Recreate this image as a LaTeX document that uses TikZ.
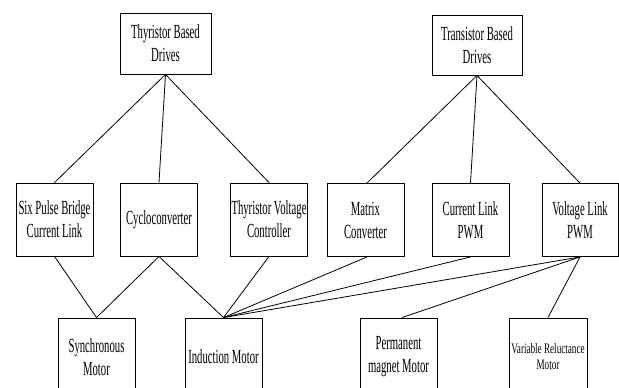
\documentclass[tikz,border=0pt]{standalone}
\usepackage{fontspec}
\setmainfont[FakeStretch=0.535]{Liberation Serif}
\newfontfamily\smallserif[FakeStretch=0.63]{Liberation Serif}
\begin{document}
\begin{tikzpicture}[x=1pt,y=-1pt,
  box/.style={draw,line width=0.9pt,inner sep=0pt,align=center,
    font=\fontsize{20}{23}\selectfont},
  topbox/.style={box,minimum width=91pt,minimum height=61pt},
  midbox/.style={box,minimum width=77pt,minimum height=73pt},
  lowbox/.style={box,minimum width=77pt,minimum height=78pt},
  link/.style={line width=0.8pt}]
\useasboundingbox (0,0) rectangle (619,388);
\fill[white] (0,0) rectangle (619,388);
\begin{scope}
\clip (0,0) rectangle (619,388);
% top row
\node[topbox] (thy) at (165.5,43.5) {Thyristor Based\\Drives};
\node[topbox,minimum width=90pt,minimum height=60pt] (tra) at (477,45) {Transistor Based\\Drives};
% middle row
\node[midbox] (six) at (54.5,219.5) {Six Pulse Bridge\\Current Link};
\node[midbox] (cyc) at (159,219.5) {Cycloconverter};
\node[midbox] (tvc) at (269,219.5) {Thyristor Voltage\\Controller};
\node[midbox] (mat) at (365.5,220) {Matrix\\Converter};
\node[midbox] (clp) at (470.5,220) {Current Link\\PWM};
\node[midbox,minimum width=76pt] (vlp) at (580,220) {Voltage Link\\PWM};
% bottom row
\node[lowbox] (syn) at (96.5,357) {Synchronous\\Motor};
\node[lowbox] (ind) at (223.5,357) {Induction Motor};
\node[lowbox] (pmm) at (398.5,357) {Permanent\\magnet Motor};
\node[lowbox,minimum width=78pt,font=\smallserif\fontsize{14.5}{16}\selectfont] (vrm) at (548,357) {Variable Reluctance\\Motor};
% connectors from top boxes
\draw[link] (thy.south) -- (six.north);
\draw[link] (thy.south) -- (cyc.north);
\draw[link] (thy.south) -- (tvc.north);
\draw[link] (tra.south) -- ([xshift=1.5pt]mat.north);
\draw[link] (tra.south) -- (clp.north);
\draw[link] (tra.south) -- (vlp.north);
% connectors to motors
\draw[link] (six.south) -- (syn.north);
\draw[link] (cyc.south) -- (syn.north);
\draw[link] (cyc.south) -- (ind.north);
\draw[link] (tvc.south) -- (ind.north);
\draw[link] ([xshift=1.5pt]mat.south) -- (ind.north);
\draw[link] (clp.south) -- (ind.north);
\draw[link] (vlp.south) -- (ind.north);
\draw[link] (vlp.south) -- ([xshift=3.5pt]pmm.north);
\draw[link] (vlp.south) -- (vrm.north);
\end{scope}
\end{tikzpicture}
\end{document}
